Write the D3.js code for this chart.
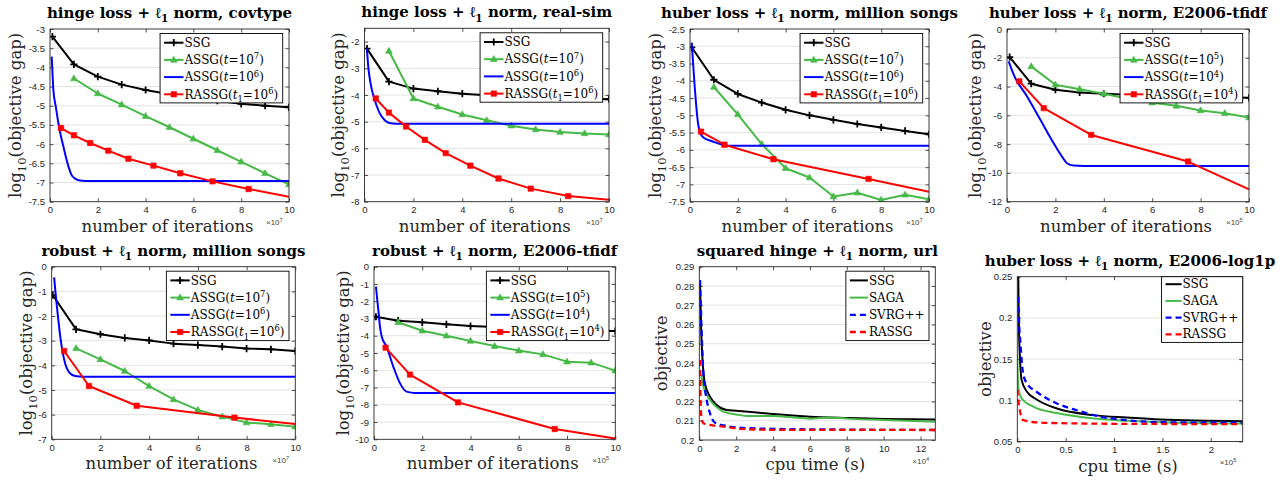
<!DOCTYPE html>
<meta charset="utf-8">
<html>
<head>
<script src="https://cdnjs.cloudflare.com/ajax/libs/d3/7.8.5/d3.min.js"></script>
<style>
  body { margin: 0; background: #fff; }
</style>
</head>
<body>
<div id="chart"></div>
<script>
// ---- data ----
// markup: $x$ italic, ^x superscript, _x subscript, {..} groups

var titles = [
  "hinge loss + ℓ_1 norm, covtype",
  "hinge loss + ℓ_1 norm, real-sim",
  "huber loss + ℓ_1 norm, million songs",
  "huber loss + ℓ_1 norm, E2006-tfidf",
  "robust + ℓ_1 norm, million songs",
  "robust + ℓ_1 norm, E2006-tfidf",
  "squared hinge + ℓ_1 norm, url",
  "huber loss + ℓ_1 norm, E2006-log1p"
];

var legendIter7 = ["SSG", "ASSG($t$=10^7)", "ASSG($t$=10^6)", "RASSG($t$_1=10^6)"];
var legendIter5 = ["SSG", "ASSG($t$=10^5)", "ASSG($t$=10^4)", "RASSG($t$_1=10^4)"];
var legendCpu = ["SSG", "SAGA", "SVRG++", "RASSG"];

// x ticks
var iterTicks = [0, 2, 4, 6, 8, 10];
var urlTicks = [0, 2, 4, 6, 8, 10, 12];
var log1pTicks = [0, 0.5, 1, 1.5, 2];

// y ticks
var covYTicks = [-7.5, -7, -6.5, -6, -5.5, -5, -4.5, -4, -3.5, -3];
var rsYTicks = [-8, -7, -6, -5, -4, -3, -2];
var mshYTicks = [-7.5, -7, -6.5, -6, -5.5, -5, -4.5, -4, -3.5, -3, -2.5];
var etYTicks = [-12, -10, -8, -6, -4, -2, 0];
var rmsYTicks = [-7, -6, -5, -4, -3, -2, -1, 0];
var retYTicks = [-10, -9, -8, -7, -6, -5, -4, -3, -2, -1, 0];
var urlYTicks = [0.2, 0.21, 0.22, 0.23, 0.24, 0.25, 0.26, 0.27, 0.28, 0.29];
var log1pYTicks = [0.05, 0.1, 0.15, 0.2, 0.25];

// hinge + l1, covtype (x in 1e7 iterations, y = log10 gap)
var covSSG = [[0.1,-3.2],[1,-3.92],[2,-4.24],[3,-4.45],[4,-4.59],[5,-4.7],[6,-4.79],[7,-4.87],[8,-4.95],[9,-5.0],[10,-5.04]];
var covASSG7 = [[1,-4.29],[2,-4.68],[3,-4.97],[4,-5.27],[5,-5.56],[6,-5.86],[7,-6.16],[8,-6.46],[9,-6.76],[10,-7.05]];
var covASSG6 = [[0.07,-3.72],[0.1,-4.1],[0.14,-4.58],[0.25,-5.05],[0.35,-5.45],[0.46,-5.8],[0.56,-6.06],[0.67,-6.35],[0.77,-6.58],[0.9,-6.8],[1.05,-6.9],[1.19,-6.94],[1.5,-6.96],[10,-6.96]];
var covRASSG = [[0.46,-5.58],[1.0,-5.77],[1.68,-5.97],[2.44,-6.17],[3.28,-6.38],[4.33,-6.56],[5.45,-6.76],[6.8,-6.97],[8.31,-7.17],[10,-7.37]];

// hinge + l1, real-sim
var rsSSG = [[0.1,-2.26],[1,-3.5],[2,-3.76],[3,-3.86],[4,-3.95],[5,-4.01],[6,-4.05],[7,-4.08],[8,-4.11],[9,-4.14],[10,-4.16]];
var rsASSG7 = [[1,-2.35],[2,-4.13],[3,-4.44],[4,-4.73],[5,-4.95],[6,-5.15],[7,-5.29],[8,-5.39],[9,-5.44],[10,-5.48]];
var rsASSG6 = [[0.1,-2.26],[0.15,-2.9],[0.2,-3.29],[0.3,-3.8],[0.41,-4.16],[0.61,-4.66],[0.82,-4.94],[1.02,-5.05],[1.3,-5.08],[10,-5.08]];
var rsRASSG = [[0.46,-4.13],[1.0,-4.66],[1.7,-5.18],[2.47,-5.68],[3.32,-6.18],[4.33,-6.65],[5.48,-7.13],[6.8,-7.51],[8.33,-7.79],[10,-7.93]];

// huber + l1, million songs
var mshSSG = [[0.07,-3.03],[1,-3.97],[2,-4.38],[3,-4.63],[4,-4.84],[5,-5.0],[6,-5.13],[7,-5.25],[8,-5.35],[9,-5.45],[10,-5.55]];
var mshASSG7 = [[1,-4.18],[2,-4.97],[3,-5.83],[4,-6.53],[5,-6.8],[6,-7.35],[7,-7.24],[8,-7.45],[9,-7.3],[10,-7.43]];
var mshASSG6 = [[0.07,-2.89],[0.2,-4.2],[0.33,-5.2],[0.4,-5.45],[0.5,-5.6],[0.65,-5.68],[0.8,-5.72],[1.0,-5.77],[1.26,-5.83],[1.54,-5.88],[10,-5.88]];
var mshRASSG = [[0.46,-5.47],[1.44,-5.85],[3.49,-6.27],[7.47,-6.84],[10,-7.21]];

// huber + l1, E2006-tfidf (x in 1e5)
var etSSG = [[0.11,-1.95],[1,-3.8],[2,-4.22],[3,-4.41],[4,-4.5],[5,-4.56],[6,-4.61],[7,-4.66],[8,-4.7],[9,-4.74],[10,-4.78]];
var etASSG5 = [[1,-2.6],[2,-3.87],[3,-4.18],[4,-4.5],[5,-4.85],[6,-5.12],[7,-5.34],[8,-5.66],[9,-5.85],[10,-6.15]];
var etASSG4 = [[0.07,-2.25],[0.28,-3.18],[0.83,-4.69],[1.38,-6.31],[1.93,-7.94],[2.27,-8.86],[2.48,-9.33],[2.75,-9.49],[3.17,-9.52],[10,-9.52]];
var etRASSG = [[0.51,-3.64],[1.52,-5.5],[3.48,-7.36],[7.48,-9.21],[10,-11.14]];

// robust + l1, million songs
var rmsSSG = [[0.04,-1.15],[1,-2.54],[2,-2.74],[3,-2.89],[4,-2.99],[5,-3.12],[6,-3.18],[7,-3.24],[8,-3.32],[9,-3.35],[10,-3.42]];
var rmsASSG7 = [[1,-3.31],[2,-3.76],[3,-4.23],[4,-4.84],[5,-5.38],[6,-5.81],[7,-6.08],[8,-6.32],[9,-6.39],[10,-6.49]];
var rmsASSG6 = [[0.1,-0.43],[0.17,-1.2],[0.23,-1.76],[0.37,-2.97],[0.55,-3.92],[0.75,-4.32],[0.96,-4.43],[1.3,-4.46],[10,-4.46]];
var rmsRASSG = [[0.51,-3.42],[1.53,-4.84],[3.49,-5.64],[7.5,-6.12],[10,-6.38]];

// robust + l1, E2006-tfidf (x in 1e5)
var retSSG = [[0.08,-2.9],[1,-3.13],[2,-3.22],[3,-3.34],[4,-3.44],[5,-3.5],[6,-3.55],[7,-3.6],[8,-3.65],[9,-3.69],[10,-3.73]];
var retASSG5 = [[1,-3.22],[2,-3.71],[3,-4.0],[4,-4.3],[5,-4.6],[6,-4.86],[7,-5.08],[8,-5.5],[9,-5.56],[10,-6.02]];
var retASSG4 = [[0.08,-1.16],[0.18,-2.51],[0.25,-3.5],[0.32,-4.05],[0.52,-4.63],[0.8,-5.79],[1.08,-6.76],[1.35,-7.24],[1.7,-7.32],[10,-7.32]];
var retRASSG = [[0.48,-4.69],[1.49,-6.25],[3.48,-7.86],[7.49,-9.4],[10,-9.96]];

// squared hinge + l1, url (x = cpu time in 1e4 s, y = objective)
var urlSSG = [[0.04,0.2813],[0.08,0.265],[0.12,0.252],[0.2,0.238],[0.3,0.2295],[0.58,0.2225],[0.94,0.2182],[1.48,0.2156],[2,0.2152],[4,0.2135],[6,0.2121],[8,0.2114],[10,0.2109],[12.8,0.2107]];
var urlSAGA = [[0.1,0.234],[0.2,0.2285],[0.4,0.2235],[0.6,0.2205],[0.9,0.2175],[1.3,0.2147],[2,0.2133],[2.7,0.2124],[4,0.2124],[5,0.2118],[6,0.2111],[7,0.2117],[8,0.2111],[10,0.2104],[12.8,0.2095]];
var urlSVRG = [[0.04,0.2831],[0.08,0.27],[0.13,0.255],[0.18,0.243],[0.22,0.2346],[0.3,0.227],[0.4,0.2208],[0.58,0.2139],[0.85,0.209],[1.48,0.2073],[2.2,0.2064],[4,0.2058],[8,0.2054],[12.8,0.2052]];
var urlRASSG = [[0.04,0.2416],[0.06,0.225],[0.09,0.2139],[0.22,0.2087],[0.58,0.2078],[1.3,0.207],[2.2,0.2058],[4,0.2053],[12.8,0.2052]];

// huber + l1, E2006-log1p (x = cpu time in 1e5 s)
var lpSSG = [[0.01,0.25],[0.015,0.2],[0.02,0.173],[0.03,0.145],[0.045,0.1245],[0.1,0.1103],[0.2,0.101],[0.41,0.09],[0.79,0.082],[1.13,0.0791],[1.48,0.0767],[2.33,0.0747]];
var lpSAGA = [[0.0,0.1549],[0.01,0.1164],[0.045,0.1022],[0.17,0.0921],[0.41,0.0845],[0.79,0.0779],[1.13,0.0751],[1.48,0.0735],[2.33,0.0719]];
var lpSVRG = [[0.01,0.2257],[0.02,0.19],[0.03,0.173],[0.06,0.1326],[0.1,0.1204],[0.2,0.1103],[0.41,0.0962],[0.61,0.0881],[0.86,0.08],[1.13,0.0759],[1.48,0.0735],[2.33,0.0727]];
var lpRASSG = [[0.0,0.1132],[0.01,0.1],[0.02,0.0921],[0.06,0.0759],[0.27,0.0727],[1,0.0715],[2.33,0.0711]];

// ---- styles ----
var W = 1283, H = 481;
var serif = "'DejaVu Serif', serif";
var sans = "'Liberation Sans', Arial, sans-serif";
var axisColor = '#262626';
var gridColor = '#e3e3e3';
var green = '#46b946';

var iterStyles = [
  {color: '#000', marker: 'plus'},
  {color: green, marker: 'tri'},
  {color: '#0000ff', marker: null, smooth: true},
  {color: '#ff0000', marker: 'square', skipLast: true}
];
var cpuStyles = [
  {color: '#000', smooth: true},
  {color: green, smooth: true},
  {color: '#0000ff', dash: '6,4', smooth: true},
  {color: '#ff0000', dash: '6,4', smooth: true}
];

var ylabGap = "log_{10}(objective gap)";

var panels = [
  {box: [50, 289, 29, 201.7], title: titles[0], x: [0, 10], y: [-7.5, -3], xt: iterTicks, yt: covYTicks, xlab: 'number of iterations', ylab: ylabGap, yoff: 29, exp: '7', leg: legendIter7, series: [covSSG, covASSG7, covASSG6, covRASSG], st: iterStyles},
  {box: [364.5, 609, 28.3, 201.7], title: titles[1], x: [0, 10], y: [-8, -1.5], xt: iterTicks, yt: rsYTicks, xlab: 'number of iterations', ylab: ylabGap, yoff: 20.5, exp: '7', leg: legendIter7, series: [rsSSG, rsASSG7, rsASSG6, rsRASSG], st: iterStyles},
  {box: [690, 929, 29, 201.7], title: titles[2], x: [0, 10], y: [-7.5, -2.5], xt: iterTicks, yt: mshYTicks, xlab: 'number of iterations', ylab: ylabGap, yoff: 29, exp: '7', leg: legendIter7, series: [mshSSG, mshASSG7, mshASSG6, mshRASSG], st: iterStyles},
  {box: [1007, 1249, 29, 201.7], title: titles[3], x: [0, 10], y: [-12, 0], xt: iterTicks, yt: etYTicks, xlab: 'number of iterations', ylab: ylabGap, yoff: 26, exp: '5', leg: legendIter5, series: [etSSG, etASSG5, etASSG4, etRASSG], st: iterStyles},
  {box: [51.7, 295.3, 266.7, 439.3], title: titles[4], x: [0, 10], y: [-7, 0], xt: iterTicks, yt: rmsYTicks, xlab: 'number of iterations', ylab: ylabGap, yoff: 19.5, exp: '7', leg: legendIter7, series: [rmsSSG, rmsASSG7, rmsASSG6, rmsRASSG], st: iterStyles},
  {box: [374, 615.3, 266.7, 439.3], title: titles[5], x: [0, 10], y: [-10, 0], xt: iterTicks, yt: retYTicks, xlab: 'number of iterations', ylab: ylabGap, yoff: 25, exp: '5', leg: legendIter5, series: [retSSG, retASSG5, retASSG4, retRASSG], st: iterStyles},
  {box: [699.3, 935.3, 266.7, 440], title: titles[6], x: [0, 12.8], y: [0.2, 0.29], xt: urlTicks, yt: urlYTicks, xlab: 'cpu time (s)', ylab: 'objective', yoff: 32.5, exp: '4', leg: legendCpu, series: [urlSSG, urlSAGA, urlSVRG, urlRASSG], st: cpuStyles},
  {box: [1017.3, 1242.7, 276.7, 441.5], title: titles[7], x: [0, 2.33], y: [0.05, 0.25], xt: log1pTicks, yt: log1pYTicks, xlab: 'cpu time (s)', ylab: 'objective', yoff: 26.5, exp: '5', leg: legendCpu, series: [lpSSG, lpSAGA, lpSVRG, lpRASSG], st: cpuStyles, legTight: true}
];

// ---- helpers ----
function richText(sel, str, size, supScale) {
  var re = /(\$[^$]+\$|[\^_]\{[^}]*\}|[\^_][^\s])/g;
  var parts = str.split(re).filter(function(p) { return p !== ''; });
  var cur = 0;
  var k = supScale || 0.4;
  parts.forEach(function(p) {
    var t = sel.append('tspan');
    var shift = 0, fs = size, txt = p;
    if (p[0] === '$') {
      txt = p.slice(1, -1);
      t.attr('font-style', 'italic');
    } else if (p[0] === '^' || p[0] === '_') {
      txt = p.slice(1).replace(/[{}]/g, '');
      fs = size * 0.7;
      shift = p[0] === '^' ? -size * k : size * 0.28;
    }
    t.attr('font-size', fs).attr('dy', shift - cur).text(txt);
    cur = shift;
  });
  return sel;
}

function fmt(v) {
  return String(+v.toFixed(3));
}

var markerPaths = {
  plus: 'M-3.6,0H3.6M0,-3.6V3.6',
  tri: 'M0,-3.6L3.4,2.3L-3.4,2.3Z',
  square: 'M-2.7,-2.7h5.4v5.4h-5.4Z'
};

function drawMarker(g, kind, color, x, y) {
  var p = g.append('path')
    .attr('d', markerPaths[kind])
    .attr('transform', 'translate(' + x + ',' + y + ')');
  if (kind === 'plus') p.attr('fill', 'none').attr('stroke', color).attr('stroke-width', 1.8);
  else p.attr('fill', color).attr('stroke', color).attr('stroke-width', 0.6);
}

// ---- draw ----
var svg = d3.select('#chart').append('svg')
  .attr('width', W)
  .attr('height', H)
  .style('background-color', '#fff');

panels.forEach(function(p, pi) {
  var L = p.box[0], R = p.box[1], T = p.box[2], B = p.box[3];
  var x = d3.scaleLinear().domain(p.x).range([L, R]);
  var y = d3.scaleLinear().domain(p.y).range([B, T]);
  var g = svg.append('g');

  svg.append('clipPath').attr('id', 'clip' + pi)
    .append('rect').attr('x', L).attr('y', T).attr('width', R - L).attr('height', B - T);

  // grid
  g.selectAll('.grid').data(p.yt.filter(function(v) { return v > p.y[0] && v < p.y[1]; }))
    .enter().append('line')
    .attr('x1', L).attr('x2', R)
    .attr('y1', function(d) { return y(d); }).attr('y2', function(d) { return y(d); })
    .attr('stroke', gridColor).attr('stroke-width', 1);

  // axes via d3.axis, ticks inward
  g.append('g').attr('transform', 'translate(0,' + B + ')')
    .call(d3.axisBottom(x).tickValues(p.xt).tickFormat(fmt).tickSizeInner(-3.5).tickSizeOuter(0).tickPadding(5));
  g.append('g').attr('transform', 'translate(' + L + ',0)')
    .call(d3.axisLeft(y).tickValues(p.yt).tickFormat(fmt).tickSizeInner(-3.5).tickSizeOuter(0).tickPadding(5));
  g.append('g').attr('transform', 'translate(0,' + T + ')')
    .call(d3.axisTop(x).tickValues(p.xt).tickFormat('').tickSizeInner(-3.5).tickSizeOuter(0));
  g.append('g').attr('transform', 'translate(' + R + ',0)')
    .call(d3.axisRight(y).tickValues(p.yt).tickFormat('').tickSizeInner(-3.5).tickSizeOuter(0));
  g.selectAll('.domain').remove();
  g.selectAll('.tick line').attr('stroke', axisColor).attr('stroke-width', 0.8);
  g.selectAll('.tick text').attr('fill', axisColor).style('font-family', sans).style('font-size', '9.5px');

  // series
  var lines = g.append('g').attr('clip-path', 'url(#clip' + pi + ')');
  p.series.forEach(function(data, si) {
    var s = p.st[si];
    var line = d3.line()
      .x(function(d) { return x(d[0]); })
      .y(function(d) { return y(d[1]); })
      .curve(s.smooth ? d3.curveMonotoneX : d3.curveLinear);
    var path = lines.append('path').datum(data)
      .attr('d', line)
      .attr('fill', 'none')
      .attr('stroke', s.color)
      .attr('stroke-width', s.dash ? 2.3 : 2)
      .attr('stroke-linejoin', 'round');
    if (s.dash) path.attr('stroke-dasharray', s.dash);
    if (s.marker) {
      data.forEach(function(d, i) {
        if (s.skipLast && i === data.length - 1) return;
        drawMarker(lines, s.marker, s.color, x(d[0]), y(d[1]));
      });
    }
  });

  // box
  g.append('rect').attr('x', L).attr('y', T).attr('width', R - L).attr('height', B - T)
    .attr('fill', 'none').attr('stroke', axisColor).attr('stroke-width', 0.9);

  // exponent label, below the last tick label
  var ex = g.append('text').attr('x', R - 23).attr('y', B + 23.5)
    .attr('fill', '#444').style('font-family', sans);
  richText(ex, '×10^' + p.exp, 8, 0.35);

  // title
  var tt = g.append('text').attr('x', (L + R) / 2).attr('y', T - 11)
    .attr('text-anchor', 'middle').attr('font-weight', 'bold').attr('fill', '#000')
    .style('font-family', serif);
  richText(tt, p.title, 15);

  // axis labels
  var xl = g.append('text').attr('x', (L + R) / 2 - 2).attr('y', B + 30)
    .attr('text-anchor', 'middle').attr('fill', axisColor).style('font-family', serif);
  richText(xl, p.xlab, 16.5);
  var yl = g.append('text')
    .attr('transform', 'translate(' + (L - p.yoff) + ',' + ((T + B) / 2) + ') rotate(-90)')
    .attr('text-anchor', 'middle').attr('fill', axisColor).style('font-family', serif);
  richText(yl, p.ylab, 16.5);

  // legend
  var first = p.legTight ? 7.5 : 9.2, rowH = p.legTight ? 16.7 : 17.2;
  var lg = g.append('g');
  var bg = lg.append('rect');
  var textX = p.legTight ? 21 : (p.st === cpuStyles ? 23 : 24.4);
  var maxW = 0;
  var items = lg.append('g');
  p.leg.forEach(function(lab, i) {
    var ty = first + i * rowH;
    var s = p.st[i];
    var ln = items.append('line').attr('x1', 4).attr('x2', textX - 1).attr('y1', ty).attr('y2', ty)
      .attr('stroke', s.color).attr('stroke-width', s.dash ? 2.3 : 2);
    if (s.dash) ln.attr('stroke-dasharray', s.dash);
    if (s.marker) drawMarker(items, s.marker, s.color, (4 + textX - 1) / 2, ty);
    var t = items.append('text').attr('x', textX).attr('y', ty + 4.2)
      .attr('fill', '#000').style('font-family', serif);
    richText(t, lab, 12);
    maxW = Math.max(maxW, t.node().getComputedTextLength());
  });
  var lw = textX + maxW + 4.5;
  var lh = p.legTight ? 65.7 : 69.4;
  var lx = p.legTight ? R - lw : R - 6.3 - lw;
  var ly = p.legTight ? T : T + 4.5;
  bg.attr('width', lw).attr('height', lh).attr('fill', '#fff')
    .attr('stroke', '#000').attr('stroke-width', 0.9);
  lg.attr('transform', 'translate(' + lx + ',' + ly + ')');
});
</script>
</body>
</html>
